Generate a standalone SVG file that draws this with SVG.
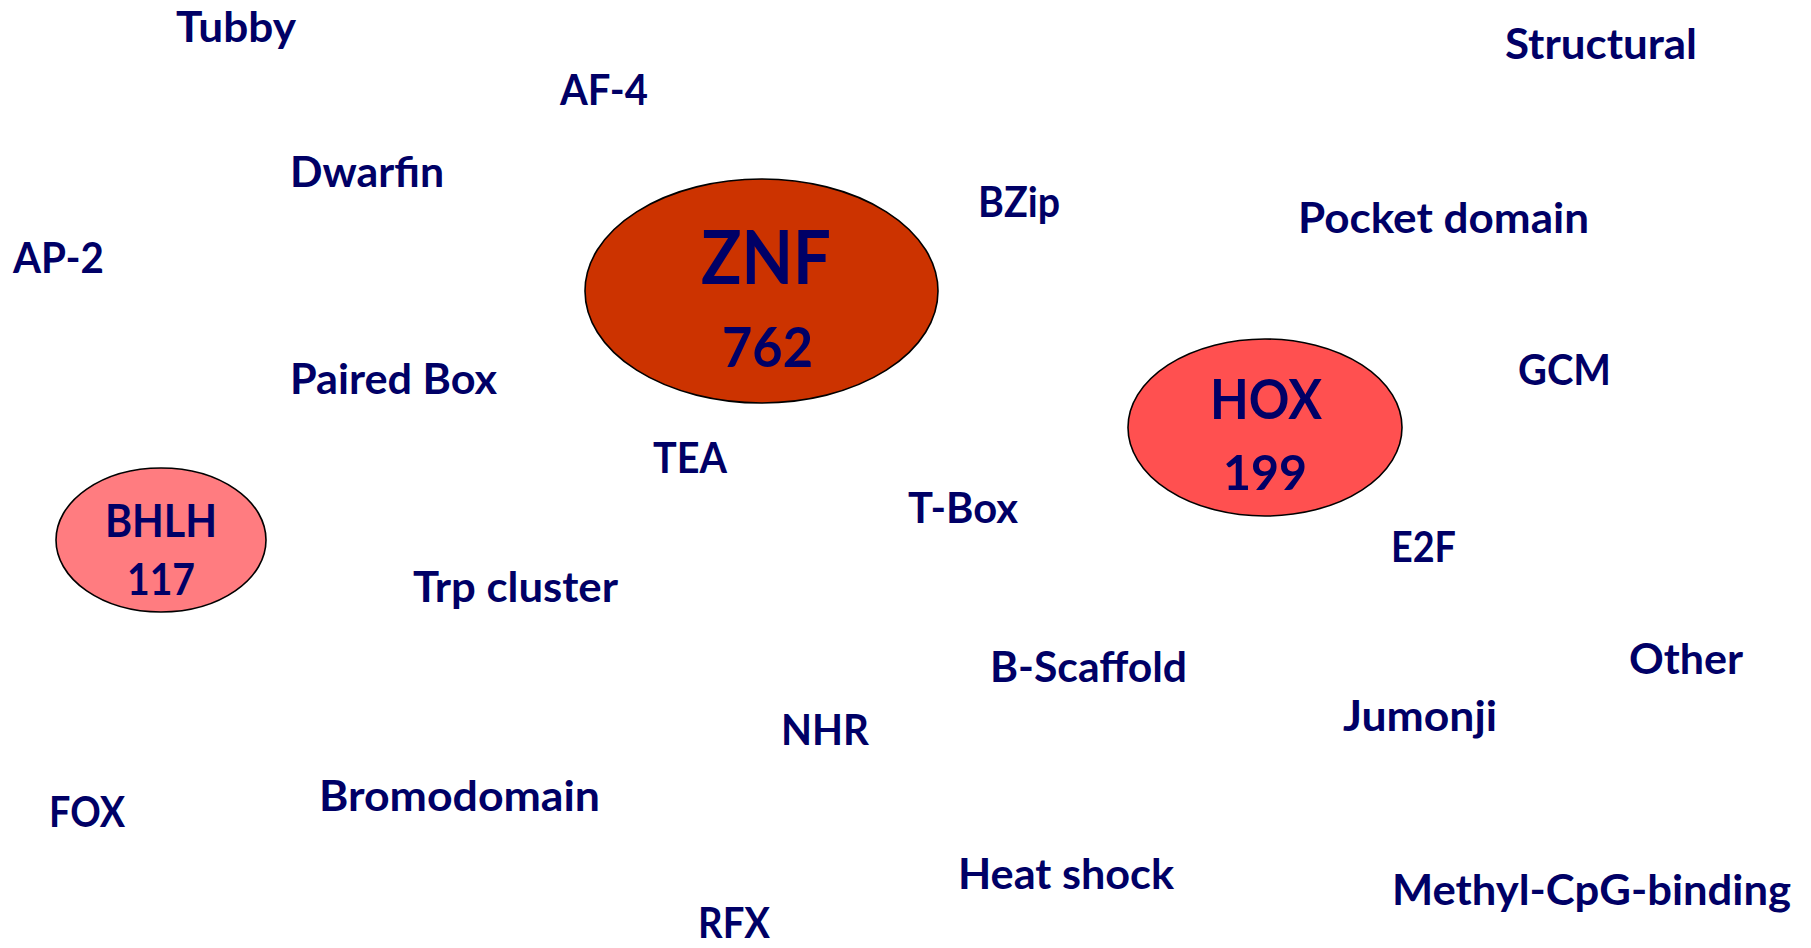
<svg xmlns="http://www.w3.org/2000/svg" width="1811" height="948" viewBox="0 0 1811 948">
<style>
  text { font-family: Lato, "Open Sans", "Liberation Sans", sans-serif; font-weight: bold; fill: #000066; }
  .lbl { font-size: 42px; }
  .ell { stroke: #000000; stroke-width: 1.6; }
</style>
<rect width="1811" height="948" fill="#ffffff"/>
<g id="connectors"/>
<g id="node-znf">
  <ellipse class="ell" cx="761.5" cy="291" rx="176.5" ry="112" fill="#CC3300"/>
  <text x="701" y="284" font-size="75" textLength="130" lengthAdjust="spacingAndGlyphs">ZNF</text>
  <text x="722" y="367" font-size="55" textLength="91" lengthAdjust="spacingAndGlyphs">762</text>
</g>
<g id="node-hox">
  <ellipse class="ell" cx="1265" cy="427.5" rx="137" ry="88.5" fill="#FF5050"/>
  <text x="1210" y="419" font-size="56" textLength="112" lengthAdjust="spacingAndGlyphs">HOX</text>
  <text x="1223" y="490" font-size="48" textLength="84" lengthAdjust="spacingAndGlyphs">199</text>
</g>
<g id="node-bhlh">
  <ellipse class="ell" cx="161" cy="540" rx="105" ry="72" fill="#FF7C80"/>
  <text x="105" y="537" font-size="46" textLength="112" lengthAdjust="spacingAndGlyphs">BHLH</text>
  <text x="127" y="595" font-size="43" textLength="68" lengthAdjust="spacingAndGlyphs">117</text>
</g>
<g id="node-tubby"><text class="lbl" x="176" y="42" textLength="120" lengthAdjust="spacingAndGlyphs">Tubby</text></g>
<g id="node-af4"><text class="lbl" x="560" y="105" textLength="88" lengthAdjust="spacingAndGlyphs">AF-4</text></g>
<g id="node-dwarfin"><text class="lbl" x="290" y="187" textLength="154" lengthAdjust="spacingAndGlyphs">Dwarfin</text></g>
<g id="node-ap2"><text class="lbl" x="13" y="273" textLength="91" lengthAdjust="spacingAndGlyphs">AP-2</text></g>
<g id="node-pairedbox"><text class="lbl" x="290" y="394" textLength="207" lengthAdjust="spacingAndGlyphs">Paired Box</text></g>
<g id="node-bzip"><text class="lbl" x="978" y="217" textLength="82" lengthAdjust="spacingAndGlyphs">BZip</text></g>
<g id="node-pocket"><text class="lbl" x="1298" y="233" textLength="291" lengthAdjust="spacingAndGlyphs">Pocket domain</text></g>
<g id="node-structural"><text class="lbl" x="1505" y="59" textLength="192" lengthAdjust="spacingAndGlyphs">Structural</text></g>
<g id="node-gcm"><text class="lbl" x="1518" y="385" textLength="93" lengthAdjust="spacingAndGlyphs">GCM</text></g>
<g id="node-tea"><text class="lbl" x="653" y="473" textLength="74" lengthAdjust="spacingAndGlyphs">TEA</text></g>
<g id="node-tbox"><text class="lbl" x="908" y="523" textLength="110" lengthAdjust="spacingAndGlyphs">T-Box</text></g>
<g id="node-trp"><text class="lbl" x="413" y="602" textLength="205" lengthAdjust="spacingAndGlyphs">Trp cluster</text></g>
<g id="node-e2f"><text class="lbl" x="1391" y="562" textLength="65" lengthAdjust="spacingAndGlyphs">E2F</text></g>
<g id="node-bscaffold"><text class="lbl" x="990" y="682" textLength="197" lengthAdjust="spacingAndGlyphs">B-Scaffold</text></g>
<g id="node-other"><text class="lbl" x="1629" y="674" textLength="114" lengthAdjust="spacingAndGlyphs">Other</text></g>
<g id="node-jumonji"><text class="lbl" x="1343" y="731" textLength="154" lengthAdjust="spacingAndGlyphs">Jumonji</text></g>
<g id="node-nhr"><text class="lbl" x="781" y="745" textLength="88" lengthAdjust="spacingAndGlyphs">NHR</text></g>
<g id="node-fox"><text class="lbl" x="49" y="827" textLength="76" lengthAdjust="spacingAndGlyphs">FOX</text></g>
<g id="node-bromo"><text class="lbl" x="319" y="811" textLength="281" lengthAdjust="spacingAndGlyphs">Bromodomain</text></g>
<g id="node-heatshock"><text class="lbl" x="958" y="889" textLength="216" lengthAdjust="spacingAndGlyphs">Heat shock</text></g>
<g id="node-methyl"><text class="lbl" x="1392" y="905" textLength="399" lengthAdjust="spacingAndGlyphs">Methyl-CpG-binding</text></g>
<g id="node-rfx"><text class="lbl" x="698" y="938" textLength="72" lengthAdjust="spacingAndGlyphs">RFX</text></g>
</svg>
